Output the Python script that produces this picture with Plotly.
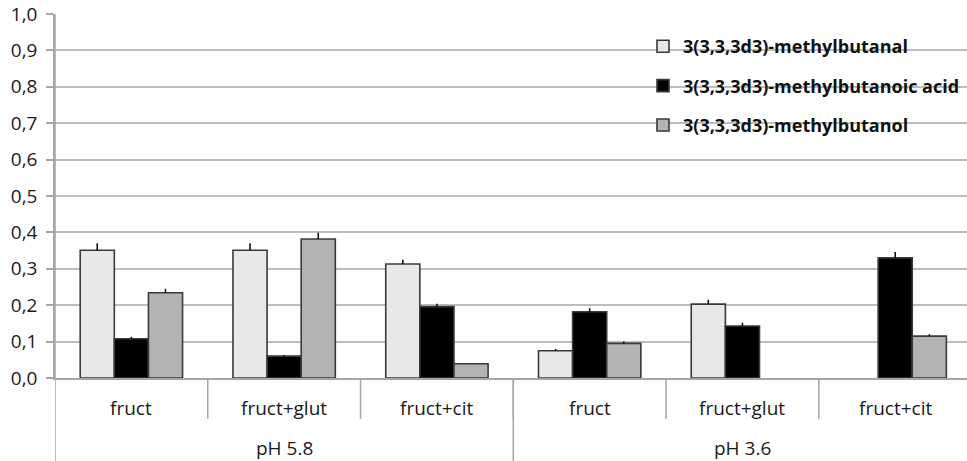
import plotly.graph_objects as go

# Sample conditions (inner level) and pH groups (outer level)
conditions = ["fruct", "fruct+glut", "fruct+cit", "fruct", "fruct+glut", "fruct+cit"]
ph_groups = ["pH 5.8", "pH 3.6"]
ph_span = [3, 3]  # number of conditions in each pH group

series_names = [
    "3(3,3,3d3)-methylbutanal",
    "3(3,3,3d3)-methylbutanoic acid",
    "3(3,3,3d3)-methylbutanol",
]

methylbutanal = [0.351, 0.351, 0.313, 0.075, 0.203, None]
methylbutanal_err = [0.019, 0.019, 0.012, 0.005, 0.012, 0]

methylbutanoic_acid = [0.108, 0.060, 0.196, 0.182, 0.143, 0.330]
methylbutanoic_acid_err = [0.005, 0.003, 0.008, 0.010, 0.009, 0.016]

methylbutanol = [0.234, 0.382, 0.039, 0.095, None, 0.115]
methylbutanol_err = [0.011, 0.017, 0.0, 0.005, 0, 0.005]

y_ticks = [i / 10 for i in range(11)]

FONT = "Open Sans"
fill_colors = ["#e8e8e8", "#000000", "#b3b3b3"]
values = [methylbutanal, methylbutanoic_acid, methylbutanol]
errors = [methylbutanal_err, methylbutanoic_acid_err, methylbutanol_err]

x_idx = list(range(len(conditions)))

fig = go.Figure()
for name, vals, errs, col in zip(series_names, values, errors, fill_colors):
    fig.add_trace(go.Bar(
        x=x_idx, y=vals, name=name, legendgroup=name,
        marker=dict(color=col, line=dict(color="#3a3a3a", width=1.6)),
        error_y=dict(type="data", array=errs, arrayminus=[0] * len(errs),
                     symmetric=False, width=0, color="#000000", thickness=1.5),
    ))

# margins (px)
M_L, M_R, M_T, M_B = 55, 0, 14, 83
W, H = 967, 461
plot_h = H - M_T - M_B

def py(px_below):
    """paper y coordinate for a distance in pixels below the x axis"""
    return -px_below / plot_h

shapes = []
n = len(conditions)
# short dividers between conditions
for i in range(n - 1):
    b = i + 0.5
    shapes.append(dict(type="line", xref="x", yref="paper", x0=b, x1=b,
                       y0=0, y1=py(41), line=dict(color="#a6a6a6", width=1.5)))
# long dividers at the edges of the pH groups
edge = -0.5
shapes.append(dict(type="line", xref="x", yref="paper", x0=edge, x1=edge,
                   y0=1, y1=py(M_B), line=dict(color="#a6a6a6", width=1.5)))
for span in ph_span[:-1]:
    edge += span
    shapes.append(dict(type="line", xref="x", yref="paper", x0=edge, x1=edge,
                       y0=0, y1=py(M_B), line=dict(color="#a6a6a6", width=1.5)))

annotations = []
for i, lab in enumerate(conditions):
    annotations.append(dict(x=i, y=0, xref="x", yref="paper", text=lab,
                            showarrow=False, yanchor="middle", yshift=-30,
                            font=dict(family=FONT, size=19, color="#1a1a1a")))
start = 0
for lab, span in zip(ph_groups, ph_span):
    annotations.append(dict(x=start + (span - 1) / 2, y=0, xref="x", yref="paper",
                            text=lab, showarrow=False, yanchor="middle", yshift=-70,
                            font=dict(family=FONT, size=19, color="#1a1a1a")))
    start += span

fig.update_layout(
    width=W, height=H,
    margin=dict(l=M_L, r=M_R, t=M_T, b=M_B, pad=0),
    paper_bgcolor="white", plot_bgcolor="white",
    separators=", ",
    barmode="group", bargap=0.33, bargroupgap=0,
    showlegend=True,
    legend=dict(x=(643 - M_L) / (W - M_L), y=1 - (28 - M_T) / plot_h,
                xanchor="left", yanchor="top", bgcolor="rgba(0,0,0,0)",
                tracegroupgap=13, itemwidth=30,
                font=dict(family=FONT, size=18, color="#111111", weight="bold")),
    xaxis=dict(range=[-0.5, 5.47], showticklabels=False, ticks="",
               showgrid=False, zeroline=False, showline=True,
               linecolor="#a6a6a6", linewidth=1.5),
    yaxis=dict(range=[0, 1], tickvals=y_ticks, tickformat=".1f",
               ticks="outside", ticklen=7, tickcolor="#a6a6a6", tickwidth=1.5,
               ticklabelstandoff=5, ticklabeloverflow="allow",
               showline=True, linecolor="#a6a6a6", linewidth=1.5,
               showgrid=True, gridcolor="#bdbdbd", gridwidth=1.5, zeroline=False,
               tickfont=dict(family=FONT, size=19, color="#1a1a1a")),
    shapes=shapes, annotations=annotations,
)

fig.write_html("out.html")
